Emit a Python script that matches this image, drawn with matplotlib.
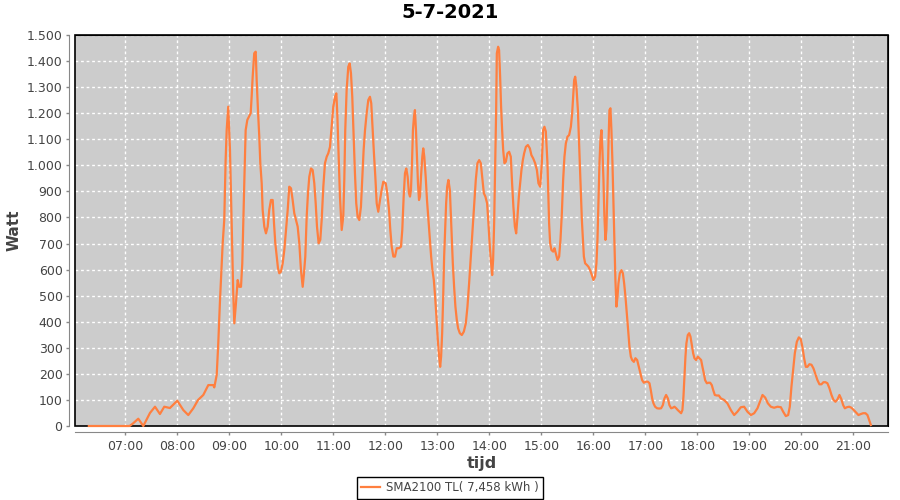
import matplotlib.pyplot as plt
from matplotlib.patches import Rectangle

# time of day in minutes since midnight, and power in Watt
minutes = [
    378, 425, 429, 435, 440.8, 448.5, 454.3, 460, 465, 471.5, 480, 487, 492.7, 498.5, 504, 510,
    515.8, 521.5, 522.7, 525.5, 527.3, 529.3, 532.4, 534.2, 535.8, 537, 538.8, 540.8, 542, 543.5,
    544.6, 545.8, 547.7, 549.7, 551.5, 553.5, 555, 556.2, 557.3, 558.9, 560.8, 562.7, 564.7, 565.8,
    567, 568.8, 570.5, 571.6, 573.1, 574.6, 575.8, 577.4, 578.5, 580.4, 582.3, 584.3, 586.1, 588.1,
    590.1, 591.6, 593.1, 594.7, 596.2, 597.7, 599.6, 601.6, 603.5, 605.4, 607.4, 609.2, 611.2, 613.1,
    615, 617, 618.9, 620.8, 622.7, 624.7, 626.2, 627.7, 629.3, 630.8, 632.3, 634.3, 636.2, 638.1,
    639.7, 641.2, 643.1, 645, 646.6, 648.5, 650.4, 652.4, 654.2, 656.2, 658.1, 660, 662, 663.5,
    664.6, 666.2, 667.7, 669.7, 671.5, 672.7, 673.8, 675.4, 677.3, 678.9, 680.4, 681.9, 683.5, 685,
    686.5, 688.1, 690, 691.9, 693.4, 695, 696.6, 698.5, 700.4, 702.3, 703.8, 705.4, 706.9, 708.5,
    710.1, 711.9, 713.9, 715.8, 717.7, 720.5, 722.3, 724.3, 725.8, 727.4, 729.3, 731.2, 733.2, 735.8,
    738.1, 739.6, 741.2, 742.7, 744.2, 745.8, 747.3, 748.5, 749.6, 750.8, 751.9, 753.1, 754.2, 755.4,
    756.6, 757.7, 758.9, 760, 761.2, 762.7, 763.8, 765, 766.6, 768.1, 769.8, 771.4, 772.9, 774.4,
    776, 777.5, 779, 780.6, 782.1, 783.3, 784.4, 785.6, 786.8, 787.9, 789.1, 790.2, 791.4, 792.8,
    794.5, 795.6, 796.8, 797.9, 799.4, 800.9, 802.5, 804, 806, 808.3, 810.6, 812.9, 814.8, 816.7,
    818.2, 819.8, 821.3, 822.8, 824.4, 826.3, 828.3, 830.2, 832.1, 833.7, 835.5, 837.5, 839, 840.6,
    842.1, 843.3, 844.4, 845.6, 846.7, 847.9, 848.7, 850.2, 851.3, 852.5, 853.6, 854.8, 856, 857.5,
    859.1, 860.9, 862.9, 864.8, 866.3, 867.8, 869.5, 871, 872.5, 874.1, 875.6, 877.1, 878.7, 880.2,
    882.2, 884.5, 886.8, 888.6, 890.6, 892.9, 894.9, 896.7, 898.7, 900.6, 902.1, 903.6, 905.2, 907.1,
    908.2, 909, 910.2, 911.7, 913.7, 915.2, 916.8, 918.7, 920.6, 922.1, 923.7, 925.2, 926.7, 928.3,
    930.2, 932.1, 934.1, 935.6, 936.7, 937.9, 939.1, 940.5, 942.2, 943.3, 944.5, 945.6, 946.8, 948,
    949.1, 950.6, 952.5, 954.4, 956.3, 958.3, 960.1, 962.1, 963.6, 964.8, 965.9, 967.1, 968.2, 969.4,
    970.5, 971.7, 972.8, 974, 975.1, 976.3, 977.4, 978.6, 979.8, 980.9, 982.1, 983.2, 984.4, 985.5,
    986.7, 987.9, 989, 990.6, 992.5, 994.1, 995.6, 997.1, 998.7, 1000.2, 1001.7, 1003.3, 1004.8, 1006.8,
    1008.6, 1010.6, 1012.5, 1014.4, 1016.3, 1018.3, 1020.6, 1022.9, 1024.8, 1026.3, 1027.9, 1029.4, 1031.3, 1033.6,
    1035.9, 1038.2, 1040.2, 1042.1, 1044, 1046, 1047.8, 1049.8, 1051.7, 1053.6, 1055.6, 1057.5, 1059.4, 1061.3,
    1062.8, 1064, 1065.1, 1066.3, 1067.4, 1069, 1070.6, 1072.1, 1073.7, 1075.2, 1076.7, 1078.6, 1080.6, 1082.4,
    1084.4, 1085.9, 1087.5, 1089, 1091, 1092.8, 1094.8, 1096.7, 1098.3, 1100.2, 1102.5, 1104.8, 1107.1, 1110.9,
    1114.7, 1118.7, 1122.5, 1126.3, 1130.2, 1134, 1137.8, 1141.8, 1145.6, 1149.4, 1152.2, 1155.2, 1158.3, 1161.4,
    1164.8, 1168.6, 1172.5, 1176.4, 1179, 1182.1, 1184.8, 1186.7, 1188.6, 1190.5, 1192.5, 1194.8, 1197.1, 1199.4,
    1201.5, 1203.2, 1205.2, 1207, 1209.3, 1211.7, 1214, 1216.3, 1218.6, 1220.9, 1223.2, 1225.5, 1227.8, 1230.1,
    1232.4, 1234.8, 1237.1, 1239.4, 1241.7, 1244, 1246.3, 1248.3, 1250.2, 1252.5, 1255.2, 1257.8, 1260.6, 1263.3,
    1265.9, 1268.7, 1271.3, 1274, 1276.3, 1278.3, 1280.2,
]
watt = [
    0, 0, 10, 28, 0, 50, 74, 46, 74, 69, 97, 61, 42, 68, 100, 119,
    157, 157, 148, 196, 317, 483, 701, 790, 1020, 1135, 1225, 1059, 880, 675,
    509, 394, 471, 560, 534, 534, 624, 790, 931, 1135, 1174, 1187, 1200, 1263,
    1340, 1430, 1436, 1327, 1212, 1110, 1008, 931, 829, 765, 739, 765, 829, 867,
    867, 778, 701, 650, 605, 586, 592, 624, 675, 752, 829, 918, 912, 867,
    816, 790, 765, 701, 598, 534, 586, 650, 803, 893, 956, 988, 982, 931,
    854, 765, 701, 714, 790, 918, 1008, 1033, 1046, 1071, 1148, 1225, 1263, 1276,
    1200, 1033, 880, 752, 803, 944, 1135, 1289, 1378, 1391, 1353, 1263, 1110, 969,
    854, 803, 790, 841, 944, 1059, 1135, 1200, 1251, 1263, 1238, 1135, 1046, 956,
    854, 822, 867, 905, 937, 931, 893, 829, 752, 688, 650, 650, 682, 682,
    688, 752, 880, 969, 988, 956, 893, 880, 905, 1008, 1135, 1187, 1212, 1135,
    1033, 931, 867, 880, 956, 1033, 1065, 1033, 956, 867, 790, 714, 650, 598,
    560, 496, 419, 330, 266, 227, 266, 356, 496, 650, 752, 854, 918, 944,
    905, 816, 726, 624, 534, 458, 407, 375, 356, 349, 362, 394, 458, 547,
    624, 701, 778, 854, 944, 1008, 1020, 1008, 944, 893, 880, 854, 778, 688,
    624, 579, 637, 778, 995, 1212, 1430, 1455, 1442, 1340, 1225, 1135, 1059, 1008,
    1014, 1046, 1052, 1033, 931, 841, 765, 739, 803, 880, 931, 982, 1020, 1046,
    1071, 1078, 1065, 1039, 1027, 1008, 982, 931, 918, 1008, 1135, 1148, 1130, 1008,
    880, 778, 701, 675, 669, 682, 662, 637, 650, 714, 816, 944, 1033, 1084,
    1110, 1116, 1148, 1200, 1263, 1327, 1340, 1302, 1212, 1110, 1008, 893, 790, 714,
    650, 624, 618, 611, 598, 579, 560, 573, 624, 714, 854, 1008, 1097, 1135,
    1059, 944, 803, 714, 752, 905, 1071, 1212, 1219, 1135, 1008, 854, 701, 560,
    458, 496, 547, 586, 598, 586, 547, 496, 432, 368, 304, 266, 253, 246,
    260, 253, 227, 202, 176, 166, 170, 170, 164, 138, 106, 87, 74, 68,
    67, 68, 80, 106, 119, 106, 80, 68, 70, 74, 68, 61, 55, 49,
    61, 112, 189, 266, 317, 349, 356, 343, 311, 279, 260, 253, 266, 260,
    253, 227, 202, 176, 164, 166, 166, 157, 138, 119, 117, 117, 106, 100,
    87, 61, 42, 55, 72, 74, 55, 42, 49, 68, 93, 119, 109, 87,
    74, 70, 74, 72, 55, 38, 42, 74, 151, 215, 279, 323, 340, 333,
    298, 260, 227, 227, 237, 235, 221, 199, 176, 160, 160, 168, 168, 164,
    145, 119, 100, 93, 102, 119, 102, 80, 68, 72, 74, 70, 61, 51,
    42, 46, 49, 49, 42, 23, 4,
]

hour_ticks = list(range(7, 22))
hour_labels = ['%02d:00' % h for h in hour_ticks]
watt_ticks = list(range(0, 1501, 100))
watt_labels = ['{:,}'.format(w).replace(',', '.') for w in watt_ticks]

series_label = 'SMA2100 TL( 7,458 kWh )'
title = '5-7-2021'

text_col = '#444444'
axis_col = '#888888'

fig = plt.figure(figsize=(9, 5), dpi=100)
ax = fig.add_axes([75 / 900, 74 / 500, 813 / 900, 391 / 500])
ax.set_facecolor('#cccccc')

hours = [m / 60 for m in minutes]
ax.plot(hours, watt, color='#ff7f3f', lw=1.6, label=series_label, zorder=5, clip_on=False)

ax.set_xlim(362 / 60, 1300 / 60)
ax.set_ylim(0, 1500)
ax.set_xticks(hour_ticks)
ax.set_xticklabels(hour_labels)
ax.set_yticks(watt_ticks)
ax.set_yticklabels(watt_labels)

ax.grid(True, color='white', linestyle=(0, (2, 2)), linewidth=1)
ax.set_axisbelow(True)

# offset grey axis lines, black frame around the plot
for side in ['left', 'bottom']:
    ax.spines[side].set_position(('outward', 4))
    ax.spines[side].set_color(axis_col)
for side in ['top', 'right']:
    ax.spines[side].set_color('black')
ax.add_patch(Rectangle((0, 0), 1, 1, transform=ax.transAxes, fill=False,
                       edgecolor='black', lw=1.2, clip_on=False, zorder=4))

ax.tick_params(axis='both', colors=axis_col, labelcolor=text_col, labelsize=9,
               length=2, width=1, direction='out')
ax.tick_params(axis='y', pad=3)
ax.tick_params(axis='x', pad=4)

ax.set_xlabel('tijd', fontsize=11.5, fontweight='bold', color=text_col, labelpad=2)
ax.set_ylabel('Watt', fontsize=11, fontweight='bold', color=text_col)
ax.yaxis.set_label_coords(-53 / 813, 0.5)
fig.suptitle(title, fontsize=14, fontweight='bold', x=0.5, y=0.995, va='top')

leg = fig.legend(loc='center', bbox_to_anchor=(0.5, 1 - 488 / 500), fontsize=8.5,
                 frameon=True, fancybox=False, edgecolor='black', framealpha=1,
                 handlelength=1.6, handletextpad=0.5, borderpad=0.35, borderaxespad=0)
leg.get_frame().set_linewidth(1)
for t in leg.get_texts():
    t.set_color(text_col)

fig.savefig('out.png', dpi=100)
